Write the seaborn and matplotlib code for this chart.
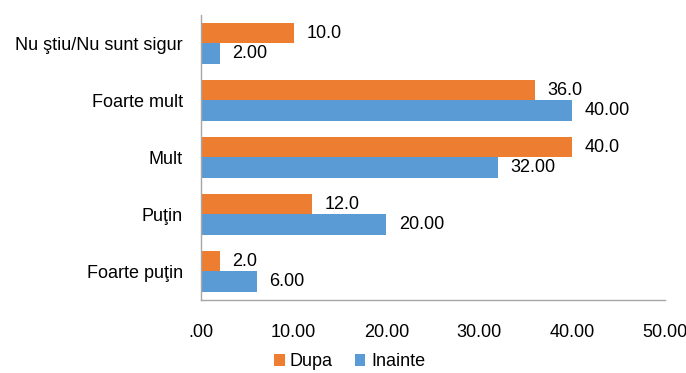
import matplotlib
matplotlib.use("Agg")
import matplotlib.pyplot as plt
import seaborn as sns
import pandas as pd
from matplotlib.ticker import FuncFormatter

categories = ["Nu ştiu/Nu sunt sigur", "Foarte mult", "Mult", "Puţin", "Foarte puţin"]
dupa = [10, 36, 40, 12, 2]
inainte = [2, 40, 32, 20, 6]
series = ["Dupa", "Inainte"]
colors = ["#ED7D31", "#5B9BD5"]

df = pd.DataFrame({
    "categorie": categories * 2,
    "valoare": dupa + inainte,
    "serie": ["Dupa"] * len(dupa) + ["Inainte"] * len(inainte),
})

sns.set_style("white")
plt.rcParams["font.family"] = ["Liberation Sans", "DejaVu Sans"]
plt.rcParams["text.color"] = "black"
plt.rcParams["xtick.color"] = "black"
plt.rcParams["ytick.color"] = "black"

fig = plt.figure(figsize=(6.86, 3.73), dpi=100)
ax = fig.add_axes([0.293, 0.196, 0.676, 0.764])

sns.barplot(data=df, x="valoare", y="categorie", hue="serie", order=categories,
            hue_order=series, palette=colors, width=0.72, orient="h",
            saturation=1, linewidth=0, ax=ax, legend=True)

# etichete valori
for cont, fmt in zip(ax.containers, ["%.1f", "%.2f"]):
    ax.bar_label(cont, fmt=fmt, padding=9, fontsize=13, color="black")

ax.set_xlim(0, 50)
ax.set_xticks([0, 10, 20, 30, 40, 50])
ax.xaxis.set_major_formatter(FuncFormatter(lambda v, p: ".00" if v == 0 else f"{v:.2f}"))
ax.tick_params(axis="x", length=0, pad=17, labelsize=13)
ax.tick_params(axis="y", length=0, pad=13, labelsize=13)
ax.set_xlabel("")
ax.set_ylabel("")

sns.despine(ax=ax, top=True, right=True)
for s in ["left", "bottom"]:
    ax.spines[s].set_color("#A6A6A6")
    ax.spines[s].set_linewidth(1)

ax.legend(loc="upper center", bbox_to_anchor=(0.32, -0.15), ncol=2, frameon=False,
          fontsize=13, handlelength=0.6, handleheight=0.6, handletextpad=0.3,
          columnspacing=1.2, borderpad=0.1)

fig.savefig("out.png", dpi=100)
